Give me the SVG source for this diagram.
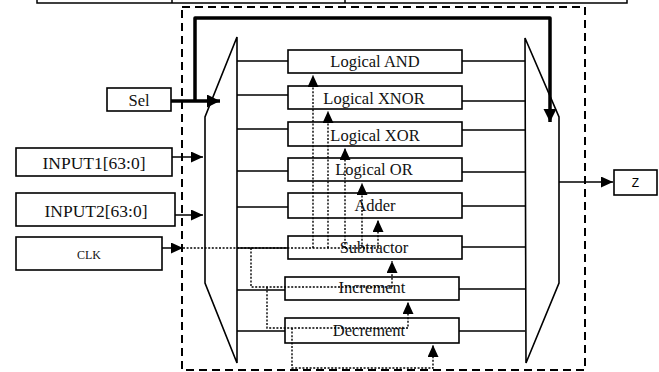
<svg xmlns="http://www.w3.org/2000/svg" width="659" height="372" viewBox="0 0 659 372">
<style>
.box{fill:#fff;stroke:#000;stroke-width:1.6}
.t{font-family:"Liberation Serif","Times New Roman",serif;font-size:16.5px;fill:#111;text-anchor:middle}
.ln{fill:none;stroke:#000;stroke-width:1.5}
.thick{fill:none;stroke:#000;stroke-width:3.5;stroke-linejoin:round}
.dot{fill:none;stroke:#000;stroke-width:1.4;stroke-dasharray:2 1.6}
.dash{fill:none;stroke:#000;stroke-width:2;stroke-dasharray:8 5}
.mux{fill:#fff;stroke:#000;stroke-width:1.6}
</style>
<defs>
<marker id="ah" markerUnits="userSpaceOnUse" markerWidth="13" markerHeight="13" refX="12" refY="5.5" orient="auto">
<path d="M0,0 L12,5.5 L0,11 Z" fill="#000"/>
</marker>
<marker id="ahb" markerUnits="userSpaceOnUse" markerWidth="15" markerHeight="15" refX="13" refY="6.5" orient="auto">
<path d="M0,0 L13,6.5 L0,13 Z" fill="#000"/>
</marker>
</defs>
<rect width="659" height="372" fill="#fff"/>
<g id="table-fragment">
<path class="ln" d="M37,0 V3 H627 V0 M172,0 V3 M345,0 V3" stroke-width="1.8"/>
</g>
<g id="boundary">
<rect class="dash" x="182" y="7" width="403" height="363"/>
</g>
<g id="mux-in">
<polygon class="mux" points="237,37 205,117 205,283 237,363"/>
</g>
<g id="mux-out">
<polygon class="mux" points="525,38 559,117 559,283 526,363"/>
</g>
<g id="sel"><rect class="box" x="107" y="88" width="64" height="23"/><text class="t" x="139" y="106">Sel</text></g>
<g id="input1"><rect class="box" x="16" y="148" width="156" height="28"/><text class="t" x="94" y="169" style="font-size:17.5px">INPUT1[63:0]</text></g>
<g id="input2"><rect class="box" x="16" y="193" width="159" height="33"/><text class="t" x="96" y="217" style="font-size:17.5px">INPUT2[63:0]</text></g>
<g id="clk"><rect class="box" x="16" y="237" width="146" height="33"/><text class="t" x="89" y="259" style="font-size:12px">CLK</text></g>
<g id="z"><rect class="box" x="614" y="170" width="43" height="25"/><text x="635.5" y="187" style="font-family:'Liberation Sans',Arial,sans-serif;font-size:12px;text-anchor:middle">Z</text></g>
<g id="and"><rect class="box" x="288" y="50" width="174" height="23"/><text class="t" x="375" y="67">Logical AND</text></g>
<g id="xnor"><rect class="box" x="288" y="86" width="174" height="23"/><text class="t" x="374" y="104">Logical XNOR</text></g>
<g id="xor"><rect class="box" x="288" y="122" width="174" height="24"/><text class="t" x="375" y="141">Logical XOR</text></g>
<g id="or"><rect class="box" x="288" y="158" width="174" height="23"/><text class="t" x="374" y="175">Logical OR</text></g>
<g id="adder"><rect class="box" x="288" y="193" width="174" height="25"/><text class="t" x="375" y="211">Adder</text></g>
<g id="subtractor"><rect class="box" x="288" y="236" width="174" height="23"/><text class="t" x="374" y="253">Subtractor</text></g>
<g id="increment"><rect class="box" x="285" y="277" width="174" height="23"/><text class="t" x="372" y="293">Increment</text></g>
<g id="decrement"><rect class="box" x="285" y="318" width="174" height="25"/><text class="t" x="369" y="336">Decrement</text></g>
<g id="connectors">
<path class="ln" d="M237,61 H288 M237,95 H288 M237,129 H288 M237,171 H288 M237,207 H288 M237,248 H288 M237,290 H285 M237,331 H285"/>
<path class="ln" d="M462,61 H525 M462,101 H525 M462,130 H525 M462,172 H525 M462,206 H525 M462,247 H525 M459,289 H525 M459,331 H525"/>
<path class="thick" d="M171,101 H220" marker-end="url(#ahb)"/>
<path class="thick" d="M195,101 V18 H550 V122" marker-end="url(#ahb)"/>
<path class="ln" d="M172,157 H203" marker-end="url(#ah)"/>
<path class="ln" d="M175,215 H203" marker-end="url(#ah)"/>
<path class="ln" d="M162,248 H183" marker-end="url(#ah)"/>
<path class="dot" d="M183,248 H378"/>
<path class="dot" d="M313,248 V75" marker-end="url(#ah)"/>
<path class="dot" d="M328,248 V111" marker-end="url(#ah)"/>
<path class="dot" d="M345,248 V148" marker-end="url(#ah)"/>
<path class="dot" d="M362,248 V183" marker-end="url(#ah)"/>
<path class="dot" d="M378,248 V220" marker-end="url(#ah)"/>
<path class="dot" d="M251,248 V287 H392 V261" marker-end="url(#ah)"/>
<path class="dot" d="M267,287 V328 H408 V302" marker-end="url(#ah)"/>
<path class="dot" d="M292,328 V368 H433 V345" marker-end="url(#ah)"/>
<path class="ln" d="M559,182 H613" marker-end="url(#ah)"/>
</g>
</svg>
